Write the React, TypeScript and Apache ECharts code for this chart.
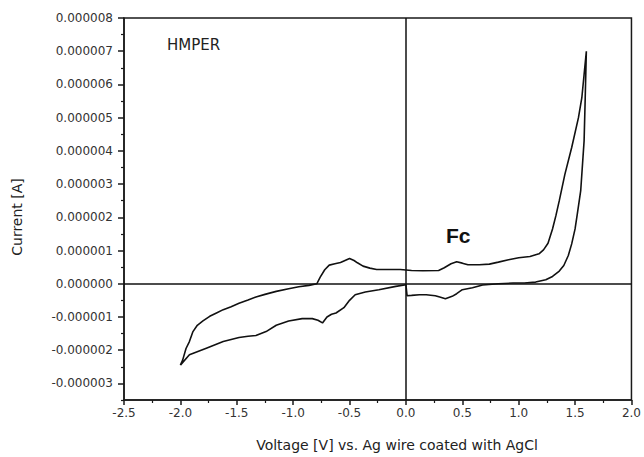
import React, { useEffect, useRef } from "react";
import * as echarts from "echarts";

// Cyclic voltammogram, voltage [V] and current [µA]
// forward sweep (-2.0 V -> 1.6 V) followed by reverse sweep (1.6 V -> -2.0 V)
const voltage: number[] = [
  -2.0, -1.98, -1.95, -1.92, -1.89, -1.85, -1.8, -1.74, -1.68, -1.62, -1.55, -1.48, -1.4, -1.33,
  -1.25, -1.15, -1.04, -0.95, -0.86, -0.79, -0.76, -0.72, -0.68, -0.63, -0.58, -0.54, -0.5, -0.46,
  -0.43, -0.38, -0.32, -0.26, -0.15, -0.05, 0.05, 0.15, 0.29, 0.34, 0.4, 0.45, 0.5, 0.55, 0.65,
  0.74, 0.82, 0.91, 1.0, 1.1, 1.18, 1.22, 1.26, 1.3, 1.33, 1.36, 1.41, 1.47, 1.53, 1.56, 1.58, 1.6,
  1.59, 1.58, 1.55, 1.52, 1.5, 1.47, 1.44, 1.4, 1.36, 1.3, 1.24, 1.15, 1.05, 0.95, 0.82, 0.68,
  0.59, 0.5, 0.45, 0.41, 0.35, 0.3, 0.26, 0.18, 0.12, 0.05, 0.01, 0.0, -0.09, -0.24, -0.36, -0.45,
  -0.5, -0.55, -0.62, -0.66, -0.7, -0.74, -0.78, -0.83, -0.92, -1.04, -1.15, -1.24, -1.33, -1.4,
  -1.48, -1.62, -1.77, -1.92, -2.0,
];
const currentMicroA: number[] = [
  -2.45, -2.3, -1.95, -1.74, -1.45, -1.25, -1.12, -0.98, -0.88, -0.78, -0.69, -0.59, -0.49, -0.4,
  -0.32, -0.23, -0.15, -0.09, -0.05, 0.0, 0.2, 0.42, 0.56, 0.6, 0.64, 0.7, 0.76, 0.7,
  0.63, 0.53, 0.47, 0.43, 0.43, 0.43, 0.4, 0.39, 0.4, 0.48, 0.6, 0.66, 0.62, 0.57, 0.57,
  0.59, 0.65, 0.72, 0.78, 0.82, 0.9, 1.02, 1.22, 1.65, 2.05, 2.5, 3.3, 4.1, 5.0, 5.6, 6.3, 7.0,
  5.6, 4.3, 2.8, 2.1, 1.65, 1.2, 0.85, 0.55, 0.38, 0.22, 0.12, 0.05, 0.02, 0.02, 0.0, -0.04,
  -0.12, -0.18, -0.3, -0.38, -0.45, -0.4, -0.36, -0.33, -0.33, -0.35, -0.36, -0.03, -0.08, -0.18, -0.25, -0.33,
  -0.5, -0.72, -0.88, -0.92, -1.0, -1.18, -1.1, -1.05, -1.05, -1.12, -1.25, -1.44, -1.56, -1.58,
  -1.62, -1.74, -1.94, -2.14, -2.45,
];

const yMajorTicksMicroA: number[] = [-3, -2, -1, 0, 1, 2, 3, 4, 5, 6, 7, 8];
const yMinorTicksMicroA: number[] = [-3.5, -2.5, -1.5, -0.5, 0.5, 1.5, 2.5, 3.5, 4.5, 5.5, 6.5, 7.5];

const xTitle = "Voltage [V] vs. Ag wire coated with AgCl";
const yTitle = "Current [A]";
const sampleLabel = "HMPER";
const peakLabel = "Fc";

const MICRO = 1e-6;

function fmtY(v: number): string {
  const n = Math.round(v / MICRO);
  if (n === 0) return "0.000000";
  return (n * MICRO).toFixed(6);
}

export default function App() {
  const ref = useRef<HTMLDivElement>(null);
  useEffect(() => {
    document.body.style.margin = "0";
    if (!ref.current) return;
    const chart = echarts.init(ref.current, undefined, { renderer: "svg" });
    const data = voltage.map((v, i) => [v, currentMicroA[i] * MICRO]);
    const axisColor = "#1a1a1a";
    const labelFont = "DejaVu Sans";
    chart.setOption({
      animation: false,
      backgroundColor: "#ffffff",
      grid: {
        left: 124,
        right: 11,
        top: 18,
        bottom: 57,
        show: true,
        borderColor: axisColor,
        borderWidth: 1.5,
      },
      xAxis: {
        type: "value",
        min: -2.5,
        max: 2.0,
        interval: 0.5,
        axisLine: { show: true, onZero: false, lineStyle: { color: axisColor, width: 1.5 } },
        axisTick: { show: true, length: 5, lineStyle: { color: axisColor, width: 1.5 } },
        minorTick: { show: true, splitNumber: 2, length: 3, lineStyle: { color: axisColor, width: 1.2 } },
        axisLabel: {
          formatter: (v: number) => v.toFixed(1),
          color: "#333",
          fontSize: 12,
          fontFamily: labelFont,
          margin: 7,
        },
        splitLine: { show: false },
        minorSplitLine: { show: false },
      },
      yAxis: [
        {
          type: "value",
          position: "left",
          min: -3.5 * MICRO,
          max: 8 * MICRO,
          axisLine: { show: true, onZero: false, lineStyle: { color: axisColor, width: 1.5 } },
          axisTick: {
            show: true,
            length: 6,
            customValues: yMajorTicksMicroA.map((t) => t * MICRO),
            lineStyle: { color: axisColor, width: 1.5 },
          },
          axisLabel: {
            customValues: yMajorTicksMicroA.map((t) => t * MICRO),
            formatter: (v: number) => fmtY(v),
            color: "#333",
            fontSize: 12,
            fontFamily: labelFont,
            margin: 11,
          },
          splitLine: { show: false },
        },
        {
          type: "value",
          position: "left",
          min: -3.5 * MICRO,
          max: 8 * MICRO,
          axisLine: { show: false, onZero: false },
          axisTick: {
            show: true,
            length: 3,
            customValues: yMinorTicksMicroA.map((t) => t * MICRO),
            lineStyle: { color: axisColor, width: 1.2 },
          },
          axisLabel: { show: false },
          splitLine: { show: false },
        },
      ],
      series: [
        {
          type: "line",
          xAxisIndex: 0,
          yAxisIndex: 0,
          data,
          showSymbol: false,
          symbol: "none",
          lineStyle: { color: "#111", width: 1.6 },
          markLine: {
            silent: true,
            symbol: ["none", "none"],
            label: { show: false },
            lineStyle: { color: "#111", type: "solid", width: 1.5 },
            data: [{ xAxis: 0 }, { yAxis: 0 }],
          },
        },
      ],
      graphic: [
        {
          type: "text",
          x: 397,
          y: 445,
          style: {
            text: xTitle,
            font: "14px 'DejaVu Sans'",
            fill: "#222",
            textAlign: "center",
            textVerticalAlign: "middle",
          },
        },
        {
          type: "text",
          x: 17,
          y: 217,
          rotation: Math.PI / 2,
          style: {
            text: yTitle,
            font: "14px 'DejaVu Sans'",
            fill: "#222",
            textAlign: "center",
            textVerticalAlign: "middle",
          },
        },
        {
          type: "text",
          x: 167,
          y: 45,
          style: {
            text: sampleLabel,
            font: "15px 'DejaVu Sans'",
            fill: "#222",
            textAlign: "left",
            textVerticalAlign: "middle",
          },
        },
        {
          type: "text",
          x: 446,
          y: 235,
          style: {
            text: peakLabel,
            font: "bold 21px 'Liberation Sans'",
            fill: "#111",
            textAlign: "left",
            textVerticalAlign: "middle",
          },
        },
      ],
    });
    return () => chart.dispose();
  }, []);
  return <div ref={ref} style={{ width: 644, height: 457 }} />;
}
